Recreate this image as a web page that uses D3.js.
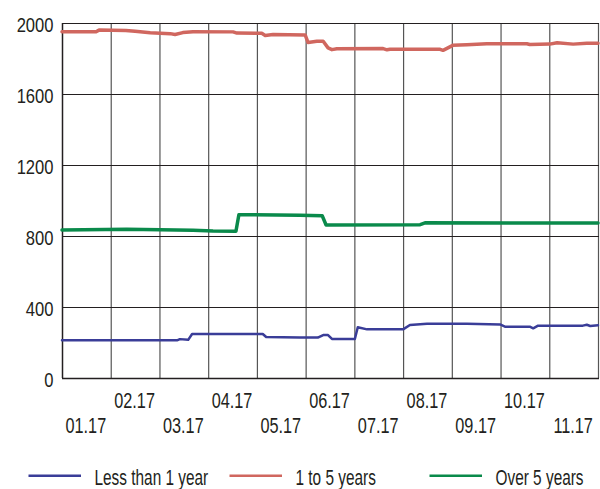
<!DOCTYPE html>
<html>
<head>
<meta charset="utf-8">
<script src="https://cdn.jsdelivr.net/npm/d3@7"></script>
<style>
  html, body { margin: 0; padding: 0; background: #fff; }
  svg text { font-family: "Liberation Sans", Arial, sans-serif; fill: #231f20; }
</style>
</head>
<body>
<svg id="chart" width="600" height="489"></svg>
<script>
// Month labels along the bottom (two staggered rows)
const monthLabels = ["01.17","02.17","03.17","04.17","05.17","06.17","07.17","08.17","09.17","10.17","11.17"];
const yTicks = [0, 400, 800, 1200, 1600, 2000];

// Series as [month offset, value]
const lessThan1 = [
  [0,212],[2.36,212],[2.42,219],[2.59,215],[2.67,248],[4.12,248],[4.19,231],[4.88,228],
  [5.25,228],[5.36,242],[5.46,242],[5.54,220],[6.01,220],[6.07,286],[6.26,274],[7.00,274],
  [7.14,299],[7.49,305],[8.31,305],[8.99,302],[9.09,289],[9.60,289],[9.67,280],[9.77,295],
  [10.69,295],[10.77,300],[10.84,293],[11,297]
];
const oneToFive = [
  [0,1951],[0.70,1951],[0.76,1960],[1.31,1958],[1.50,1953],[1.81,1945],[2.22,1940],[2.32,1935],
  [2.48,1946],[2.69,1951],[3.51,1950],[3.59,1943],[4.10,1942],[4.17,1930],[4.33,1935],[4.99,1933],
  [5.05,1890],[5.23,1897],[5.36,1897],[5.46,1860],[5.54,1850],[5.64,1855],[6.59,1856],[6.67,1849],
  [6.73,1852],[7.76,1852],[7.82,1846],[8.02,1874],[8.31,1878],[8.72,1883],[9.54,1883],[9.60,1879],
  [10.01,1881],[10.16,1889],[10.49,1881],[10.77,1886],[11,1886]
];
const overFive = [
  [0,834],[1.33,838],[2.69,832],[3.10,828],[3.57,827],[3.63,920],[4.88,917],[5.34,914],
  [5.42,862],[7.35,864],[7.45,874],[11,873]
];

const seriesNames = ["Less than 1 year", "1 to 5 years", "Over 5 years"];
const seriesColors = ["#3a3d98", "#d0675f", "#0a8a4b"];
const seriesData = [lessThan1, oneToFive, overFive];
const seriesWidths = [2.5, 3.5, 3.5];

const svg = d3.select("#chart");
const plotLeft = 62, plotRight = 598, plotTop = 23, plotBottom = 378;

const x = d3.scaleLinear().domain([0, 11]).range([plotLeft, plotRight]);
const y = d3.scaleLinear().domain([0, 2000]).range([plotBottom, plotTop]);

// vertical grid (one line per month)
svg.append("g").selectAll("line").data(d3.range(0, 12)).join("line")
  .attr("x1", d => x(d) + 0.5).attr("x2", d => x(d) + 0.5)
  .attr("y1", plotTop).attr("y2", plotBottom)
  .attr("stroke", d => (d === 0 ? "#231f20" : "#555")).attr("stroke-width", d => (d === 0 ? 1.5 : 1.2));

// horizontal grid
svg.append("g").selectAll("line").data(yTicks).join("line")
  .attr("x1", plotLeft).attr("x2", plotRight + 1)
  .attr("y1", d => Math.round(y(d)) + 0.5).attr("y2", d => Math.round(y(d)) + 0.5)
  .attr("stroke", "#231f20").attr("stroke-width", d => (d === 0 ? 1.5 : 1.2));

// y labels
svg.append("g").selectAll("text").data(yTicks).join("text")
  .attr("text-anchor", "end")
  .attr("font-size", 21)
  .attr("transform", d => `translate(53.5,${y(d) + 8.7}) scale(0.79,1)`)
  .text(d => d);

// x labels, centred in each month, alternating rows
svg.append("g").selectAll("text").data(monthLabels).join("text")
  .attr("text-anchor", "middle")
  .attr("font-size", 22)
  .attr("transform", (d, i) => `translate(${x(i + 0.5) - 0.5},${i % 2 === 0 ? 432.7 : 407.5}) scale(0.74,1)`)
  .text(d => d);

// series lines
const line = d3.line().x(d => x(d[0])).y(d => y(d[1]));
seriesData.forEach((data, i) => {
  svg.append("path").datum(data)
    .attr("d", line)
    .attr("fill", "none")
    .attr("stroke", seriesColors[i])
    .attr("stroke-width", seriesWidths[i])
    .attr("stroke-linejoin", "round")
    .attr("stroke-linecap", "round");
});

// legend
const legendLineX = [28.5, 229.5, 429.5];
const legend = svg.append("g");
seriesNames.forEach((name, i) => {
  legend.append("line")
    .attr("x1", legendLineX[i]).attr("x2", legendLineX[i] + 52.5)
    .attr("y1", 475.7).attr("y2", 475.7)
    .attr("stroke", seriesColors[i]).attr("stroke-width", 2.6);
  legend.append("text")
    .attr("font-size", 22)
    .attr("transform", `translate(${legendLineX[i] + 66},484.5) scale(0.70,1)`)
    .text(name);
});
</script>
</body>
</html>
